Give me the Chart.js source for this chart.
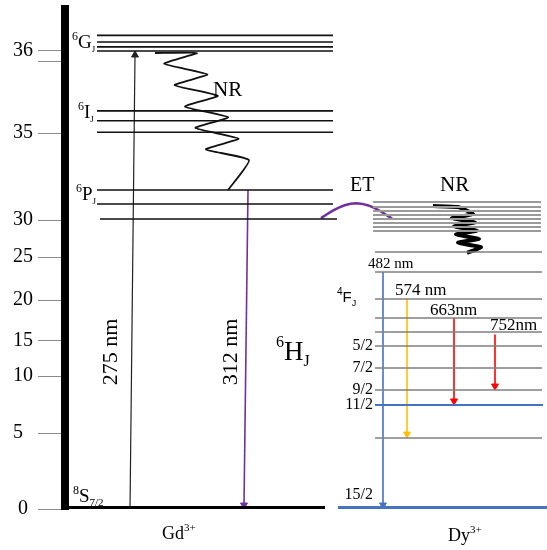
<!DOCTYPE html>
<html>
<head>
<meta charset="utf-8">
<title>Gd - Dy energy levels</title>
<script src="https://cdn.jsdelivr.net/npm/chart.js"></script>
<style>
  html, body { margin: 0; padding: 0; background: #fff; }
  #wrap { width: 547px; height: 550px; }
</style>
</head>
<body>
<div id="wrap"><canvas id="myChart" width="547" height="550"></canvas></div>
<script>
// energy axis (10^3 cm-1) is not linear: labels and the height each one sits at
const tickLabels = ['0 ', '5  ', '10', '15', '20', '25', '30', '35', '36'];
const tickEnergy = [0, 5, 10, 15, 20, 25, 30, 35, 36];
const tickHeight = [0, 76, 133, 168, 209, 252, 289, 376, 458];
const extraTick = 35.87;

// Gd3+ levels
const gdG = [36.19, 36.11, 36.05, 36.0];
const gdI = [35.27, 35.15, 35.01];
const gdP = [31.72, 30.92, 30.06];

// Dy3+ levels
const dyUpper = [31.03, 30.75, 30.52, 30.29, 30.06, 29.6, 29.05, 28.5];
const dyLevels = [25.68, 23.26, 20.12, 17.8, 16.1, 14.29, 11.14, 8.77, 4.67];
const dyH11 = 7.46;
const dyNames = ['5/2', '7/2', '9/2', '11/2', '15/2'];
const dyNameEnergy = [14.29, 11.14, 8.77, 7.46, 0];

// transitions
const gdExcite = { label: '275 nm', from: 0, to: 36.0 };
const gdEmit = { label: '312 nm', from: 31.72, to: 0 };
const dyEmit = [
  { label: '482 nm', from: 23.26, to: 0 },
  { label: '574 nm', from: 20.12, to: 4.67 },
  { label: '663nm', from: 17.8, to: 7.46 },
  { label: '752nm', from: 15.8, to: 8.77 }
];

const PURPLE = '#7030a0', BLUE = '#4472c4', YELLOW = '#ffc000', RED = '#ff0000';
const SERIF = '"Liberation Serif", "Times New Roman", serif';

function toH(e) {
  let i = 1;
  while (i < tickEnergy.length - 1 && e > tickEnergy[i]) i++;
  const e0 = tickEnergy[i - 1], e1 = tickEnergy[i];
  return tickHeight[i - 1] + (e - e0) / (e1 - e0) * (tickHeight[i] - tickHeight[i - 1]);
}

function seg(x1, x2, e) {
  return [{ x: x1, y: toH(e) }, { x: x2, y: toH(e) }, { x: x2, y: null }];
}

function lines(data, color, width) {
  return { data: data, borderColor: color, borderWidth: width, pointRadius: 0, showLine: true, spanGaps: false };
}

function arrow(x1, e1, x2, e2, color, width, head) {
  const h1 = toH(e1), h2 = toH(e2);
  const dir = h2 > h1 ? 1 : -1;
  return {
    data: [{ x: x1, y: h1 }, { x: x2, y: h2 - dir * head }],
    borderColor: color, borderWidth: width, showLine: true,
    pointRadius: [0, head], pointStyle: 'triangle', pointRotation: dir > 0 ? 0 : 180,
    pointBackgroundColor: color, pointBorderColor: color, pointBorderWidth: 1
  };
}

// zigzag between two levels, after some lead-in points
function squiggle(lead, cx0, h0, cx1, h1, amp, n, end) {
  const pts = lead.slice();
  for (let i = 0; i < n; i++) {
    const t = i / (n - 1);
    pts.push({ x: cx0 + (cx1 - cx0) * t + (i % 2 ? -amp : amp), y: h0 + (h1 - h0) * t });
  }
  pts.push(end);
  return pts;
}

const datasets = [];

// Gd levels
datasets.push(lines([].concat(
  gdG.map(e => seg(97, 333, e)).flat(),
  gdI.map(e => seg(97, 333, e)).flat(),
  seg(97, 333, gdP[0]), seg(97, 333, gdP[1]), seg(100, 337, gdP[2])
), '#111', 1.6));

// Dy levels
datasets.push(lines(dyUpper.map(e => seg(373, 541, e)).flat(), '#9a9a9a', 2));
datasets.push(lines(seg(373, 541, dyUpper[5]), '#555', 1.6));
datasets.push(lines(dyLevels.map(e => seg(375, 542, e)).flat(), '#808080', 1.6));
datasets.push(lines(seg(375, 543, dyH11), BLUE, 2));

// ground levels
datasets.push(lines(seg(66, 325, 0), '#000', 6));
datasets.push(lines(seg(338, 547, 0), BLUE, 6));

// arrows
datasets.push(arrow(130, gdExcite.from, 135, gdExcite.to, '#222', 1.2, 4));
datasets.push(arrow(248, gdEmit.from, 244, gdEmit.to, PURPLE, 1.6, 4));
const dyX = [383, 407, 454, 495];
const dyCol = [BLUE, YELLOW, RED, RED];
dyEmit.forEach((t, i) => datasets.push(arrow(dyX[i], t.from, dyX[i], t.to, dyCol[i], 1.6, 4)));

// non-radiative relaxation
const gTop = toH(gdG[3]) - 2;
const nrGd = squiggle([{ x: 155, y: gTop }], 178, gTop, 230, toH(gdP[0]) + 30, 19, 11,
  { x: 228, y: toH(gdP[0]) });
datasets.push(Object.assign(lines(nrGd, '#111', 1.8), { tension: 0.15 }));
const dTop = toH(dyUpper[0]) - 4;
const nrDy = squiggle([{ x: 433, y: dTop }, { x: 458, y: dTop - 1 }], 462, dTop - 8, 470, toH(dyLevels[0]) + 5, 11, 9,
  { x: 467, y: toH(dyLevels[0]) - 1 });
datasets.push(Object.assign(lines(nrDy, '#000', 4), { tension: 0.15 }));

// energy transfer arc from Gd 6P to the Dy upper levels
const etFrom = 30.11, etTo = 30.08;
const etArc = [];
for (let i = 0; i <= 12; i++) {
  const t = i / 12;
  etArc.push({ x: 321 + 71 * t, y: toH(etFrom) + (toH(etTo) - toH(etFrom)) * t + 15 * Math.sin(Math.PI * t) });
}
datasets.push(lines(etArc, PURPLE, 2.5));

// text: parts are [text, size, dy]
const texts = [
  { x: 72, h: 461, parts: [['6', 12, -8], ['G', 19, 0], ['J', 9, 4]] },
  { x: 78, h: 391, parts: [['6', 12, -8], ['I', 19, 0], ['J', 9, 4]] },
  { x: 76, h: 309, parts: [['6', 12, -8], ['P', 19, 0], ['J', 9, 4]] },
  { x: 73, h: 7, parts: [['8', 12, -8], ['S', 19, 0], ['7/2', 11, 4]] },
  { x: 213, h: 413, parts: [['NR', 21, 0]] },
  { x: 350, h: 318, parts: [['ET', 20, 0]] },
  { x: 440, h: 318, parts: [['NR', 21, 0]] },
  { x: 368, h: 241, parts: [[dyEmit[0].label, 15, 0]] },
  { x: 395, h: 214, parts: [[dyEmit[1].label, 17, 0]] },
  { x: 430, h: 194, parts: [[dyEmit[2].label, 17, 0]] },
  { x: 490, h: 179, parts: [[dyEmit[3].label, 17, 0]] },
  { x: 337, h: 207, sans: true, parts: [['4', 10, -7], ['F', 15, 0], ['J', 9, 4]] },
  { x: 276, h: 149, parts: [['6', 16, -13], ['H', 27, 0], ['J', 16, 6]] },
  { x: 162, h: -30, parts: [['Gd', 18, 0], ['3+', 11, -8]] },
  { x: 448, h: -32, parts: [['Dy', 18, 0], ['3+', 11, -8]] }
];

function font(size, sans) {
  return size + 'px ' + (sans ? '"Liberation Sans", Arial, sans-serif' : SERIF);
}

const textPlugin = {
  id: 'texts',
  afterDatasetsDraw(chart) {
    const ctx = chart.ctx, xs = chart.scales.x, ys = chart.scales.y;
    ctx.save();
    ctx.fillStyle = '#000';
    ctx.textBaseline = 'alphabetic';
    ctx.textAlign = 'left';
    texts.forEach(t => {
      let x = xs.getPixelForValue(t.x);
      const y = ys.getPixelForValue(t.h);
      t.parts.forEach(p => {
        ctx.font = font(p[1], t.sans);
        ctx.fillText(p[0], x, y + p[2]);
        x += ctx.measureText(p[0]).width;
      });
    });
    // J values of Dy 6H levels
    ctx.font = font(16);
    ctx.textAlign = 'right';
    ctx.textBaseline = 'middle';
    dyNames.forEach((n, i) => {
      const h = toH(dyNameEnergy[i]) + (dyNameEnergy[i] === 0 ? 14 : 0);
      ctx.fillText(n, xs.getPixelForValue(373), ys.getPixelForValue(h));
    });
    // rotated wavelength labels
    ctx.textAlign = 'center';
    ctx.font = font(22);
    [[gdExcite.label, 111], [gdEmit.label, 231]].forEach(r => {
      ctx.save();
      ctx.translate(xs.getPixelForValue(r[1]), ys.getPixelForValue(157));
      ctx.rotate(-Math.PI / 2);
      ctx.fillText(r[0], 0, 0);
      ctx.restore();
    });
    ctx.restore();
  }
};

new Chart(document.getElementById('myChart'), {
  type: 'scatter',
  data: { datasets: datasets },
  options: {
    responsive: false,
    animation: false,
    devicePixelRatio: 1,
    layout: { autoPadding: false, padding: { top: 9, bottom: 41, left: 0, right: 0 } },
    plugins: { legend: { display: false }, tooltip: { enabled: false } },
    scales: {
      x: { type: 'linear', min: 65, max: 547, display: false },
      y: {
        type: 'linear', min: 0, max: 500,
        afterFit: s => {
          s.width = 65;
          s.paddingTop = 0; s.paddingBottom = 0;
        },
        afterBuildTicks: s => {
          s.ticks = tickHeight.map(v => ({ value: v })).concat([{ value: toH(extraTick) }]);
        },
        ticks: {
          autoSkip: false, padding: 5, color: '#000',
          font: { family: SERIF, size: 20 },
          callback: (v, i) => i < tickLabels.length ? tickLabels[i] : ''
        },
        grid: { drawOnChartArea: false, tickLength: 27, color: '#8a8a8a', lineWidth: 1 },
        border: { display: true, width: 8, color: '#000' }
      }
    }
  },
  plugins: [textPlugin]
});
</script>
</body>
</html>
